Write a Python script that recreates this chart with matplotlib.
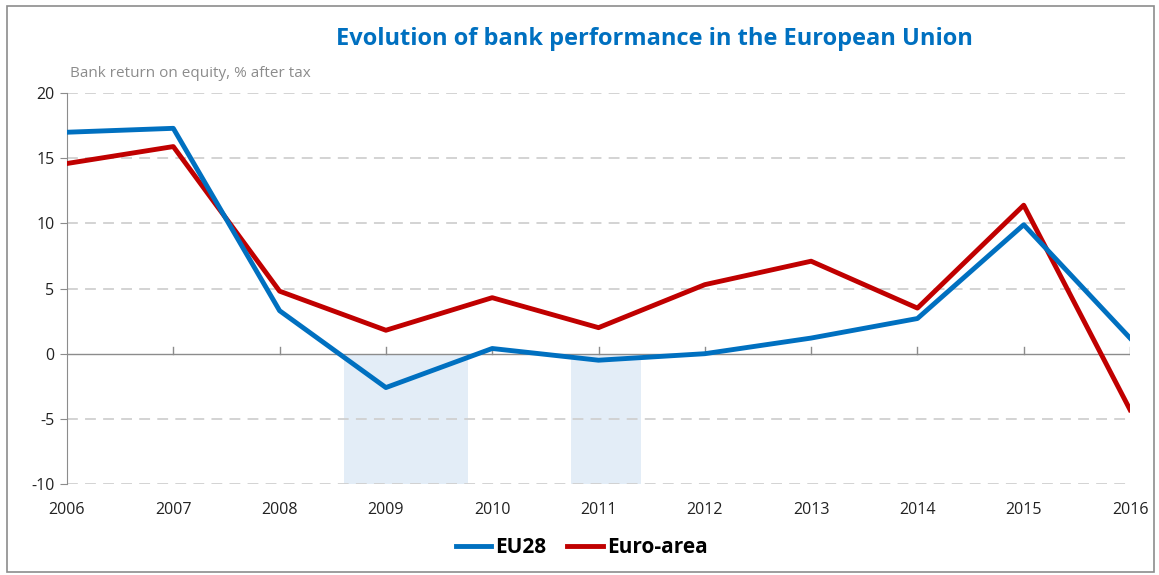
import numpy as np
import matplotlib.pyplot as plt
from matplotlib.patches import Rectangle

# data
years = [2006, 2007, 2008, 2009, 2010, 2011, 2012, 2013, 2014, 2015, 2016]
eu28 = [17.0, 17.3, 3.3, -2.6, 0.4, -0.5, 0.0, 1.2, 2.7, 9.9, 1.2]
euro_area = [14.6, 15.9, 4.8, 1.8, 4.3, 2.0, 5.3, 7.1, 3.5, 11.4, -4.3]

# shaded periods (start, end) in years
shade_periods = [(2008.61, 2009.77), (2010.74, 2011.40)]

plt.rcParams['font.family'] = ['Open Sans', 'DejaVu Sans']
plt.rcParams['axes.unicode_minus'] = False

fig = plt.figure(figsize=(11.59, 5.75), dpi=100)
ax = fig.add_axes([0.0578, 0.1583, 0.9172, 0.6797])

# grey frame round the whole figure
fig.patches.append(Rectangle((0.006, 0.005), 0.99, 0.984, transform=fig.transFigure,
                             fill=False, edgecolor='#8c8c8c', linewidth=1.2))

for a, b in shade_periods:
    ax.axvspan(a, b, ymin=0, ymax=1/3, color='#dce9f5', alpha=0.8, lw=0, zorder=0)

for v in [-10, -5, 5, 10, 15, 20]:
    ax.axhline(v, color='#d0d0d0', lw=1.3, ls=(0, (6, 4)), zorder=1)
ax.axhline(0, color='#8c8c8c', lw=1.0, zorder=2)
for yr in years[1:]:
    ax.plot([yr, yr], [0, 0.5], color='#8c8c8c', lw=1.0, zorder=2)

ax.plot(years, eu28, color='#0070C0', lw=3.5, label='EU28', zorder=4)
ax.plot(years, euro_area, color='#C00000', lw=3.5, label='Euro-area', zorder=3)

ax.set_xlim(2006, 2016)
ax.set_ylim(-10, 20)
ax.set_yticks([-10, -5, 0, 5, 10, 15, 20])
ax.set_xticks(years)
ax.tick_params(axis='y', length=5, color='#8c8c8c', labelsize=11.5, pad=4, labelcolor='#222222')
ax.tick_params(axis='x', length=0, labelsize=11.5, pad=13, labelcolor='#222222')
for s in ['top', 'right', 'bottom']:
    ax.spines[s].set_visible(False)
ax.spines['left'].set_color('#8c8c8c')

fig.text(0.5645, 0.932, 'Evolution of bank performance in the European Union',
         ha='center', va='center', fontsize=17, fontweight='bold', color='#0070C0')
fig.text(0.060, 0.873, 'Bank return on equity, % after tax', ha='left', va='center',
         fontsize=11, color='#8c8c8c')

leg = fig.legend(loc='center', bbox_to_anchor=(0.502, 0.047), ncol=2, frameon=False,
                 prop={'weight': 'bold', 'size': 15}, handlelength=1.7, columnspacing=1.0,
                 handletextpad=0.2)

fig.savefig('out.png', dpi=100)
